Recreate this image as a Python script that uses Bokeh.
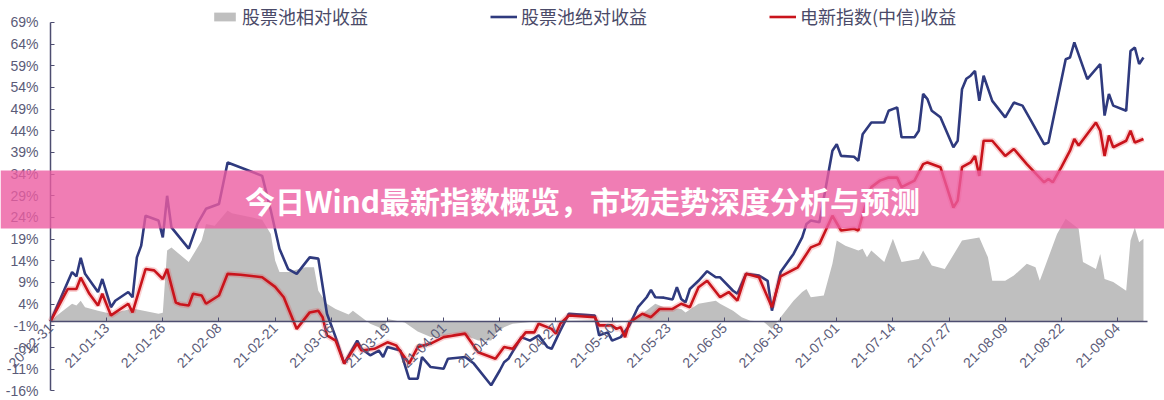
import pandas as pd
from math import pi
from bokeh.plotting import figure
from bokeh.models import (Range1d, FixedTicker, PrintfTickFormatter, DatetimeTickFormatter,
                          Legend, LegendItem, BoxAnnotation, Label)
from bokeh.embed import file_html
from bokeh.resources import INLINE

# ---------------- data ----------------
BASE_DATE = "2020-12-31"
tick_dates = ["2020-12-31", "2021-01-13", "2021-01-26", "2021-02-08", "2021-02-21",
              "2021-03-06", "2021-03-19", "2021-04-01", "2021-04-14", "2021-04-27",
              "2021-05-10", "2021-05-23", "2021-06-05", "2021-06-18", "2021-07-01",
              "2021-07-14", "2021-07-27", "2021-08-09", "2021-08-22", "2021-09-04"]
y_ticks = [-16, -11, -6, -1, 4, 9, 14, 19, 24, 29, 34, 39, 44, 49, 54, 59, 64, 69]

# days after BASE_DATE, returns in %
rel_days = [0, 2, 5, 6, 7, 8, 11, 14, 19, 25, 26, 27, 28, 32, 35, 36, 38, 41, 42, 49, 51, 52, 53,
            55, 59, 61, 62, 64, 66, 69, 70, 72, 74, 76, 77, 78, 82, 85, 88, 90, 93, 96, 99, 102,
            103, 105, 107, 110, 112, 126, 130, 134, 137, 140, 142, 146, 147, 150, 154, 155, 158,
            160, 162, 165, 167, 169, 172, 174, 175, 176, 179, 181, 182, 184, 187, 188, 189, 190,
            193, 195, 197, 201, 202, 204, 207, 208, 211, 215, 217, 218, 221, 223, 226, 228, 229,
            233, 235, 238, 239, 242, 243, 244, 246, 249, 250, 251, 252, 253]
rel_vals = [0.0, 1.8, 4.1, 3.7, 4.8, 3.3, 2.5, 1.8, 3.0, 1.8, 2.0, 16.4, 17.1, 13.7, 18.7, 22.5,
            22.1, 25.6, 25.0, 23.5, 20.2, 14.1, 11.4, 11.4, 12.5, 12.5, 7.1, 4.1, 2.9, 1.6, 2.5,
            1.0, -0.5, -1.3, -2.3, 0.6, -0.2, -2.3, -3.6, -3.6, -2.8, -3.2, -4.4, -4.4, -2.8,
            -1.3, -0.5, -0.2, 0.0, 0.3, -0.3, 0.0, 1.8, 4.1, 3.3, 2.9, 2.1, 4.1, 4.8, 4.1, 2.5,
            1.0, 0.2, 0.0, -1.7, 1.0, 4.8, 6.8, 7.5, 5.6, 6.0, 13.3, 18.7, 17.5, 16.4, 16.8, 14.8,
            16.4, 13.7, 19.1, 13.7, 14.4, 16.4, 12.9, 12.1, 13.7, 18.7, 19.4, 14.8, 9.4, 9.4,
            10.6, 13.3, 12.5, 9.4, 20.2, 23.7, 21.4, 13.7, 12.1, 15.6, 9.8, 9.1, 7.1, 18.7, 21.7,
            18.3, 19.1]

abs_days = [0, 5, 6, 7, 8, 11, 12, 14, 15, 18, 19, 20, 21, 22, 25, 26, 27, 28, 32, 34, 36, 39,
            41, 49, 51, 53, 55, 57, 60, 62, 64, 66, 68, 71, 72, 74, 76, 77, 78, 81, 83, 85, 86,
            88, 91, 92, 96, 98, 102, 104, 105, 106, 109, 111, 113, 115, 116, 118, 120, 126, 127,
            129, 130, 132, 134, 136, 138, 139, 140, 142, 144, 145, 146, 147, 148, 150, 152, 154,
            155, 158, 159, 161, 164, 166, 167, 169, 172, 174, 175, 176, 178, 181, 182, 183, 186,
            187, 188, 190, 193, 194, 196, 197, 200, 201, 202, 203, 204, 206, 209, 210, 211, 212,
            213, 214, 215, 216, 218, 221, 223, 225, 227, 230, 231, 233, 235, 236, 237, 240, 243,
            244, 245, 246, 249, 250, 251, 252, 253]
abs_vals = [0.0, 11.4, 10.4, 14.7, 11.0, 6.8, 9.8, 3.3, 4.8, 6.8, 5.6, 14.8, 17.5, 24.4, 23.3,
            19.4, 29.0, 21.7, 16.8, 22.5, 26.0, 27.1, 36.7, 33.6, 25.6, 16.8, 12.1, 11.0, 14.8,
            14.5, 1.8, -3.6, -9.7, -4.4, -6.3, -7.8, -6.7, -8.2, -5.9, -6.7, -13.2, -13.2, -8.2,
            -10.5, -10.9, -8.6, -8.2, -9.7, -14.7, -11.3, -9.4, -8.6, -3.6, -4.4, -3.2, -5.9,
            -6.3, -2.1, 1.8, 1.4, -3.2, -2.5, -4.4, -3.6, -0.9, 3.3, 5.6, 7.3, 5.6, 5.5, 5.1, 7.9,
            5.2, 4.4, 7.5, 9.4, 11.6, 10.2, 10.2, 7.1, 6.4, 11.0, 10.6, 9.4, 2.5, 11.4, 15.6,
            19.4, 22.5, 23.3, 22.9, 39.4, 40.9, 38.2, 38.0, 37.1, 43.2, 45.9, 45.9, 48.6, 49.4,
            42.5, 42.5, 44.0, 52.5, 51.3, 48.6, 47.1, 40.2, 41.7, 53.6, 56.0, 56.7, 57.8, 50.9,
            56.7, 50.9, 47.1, 50.5, 49.8, 46.3, 40.9, 41.3, 50.9, 60.5, 60.9, 64.4, 55.9, 59.4,
            47.5, 52.5, 49.8, 48.6, 62.4, 63.2, 59.4, 60.9]

idx_days = [0, 4, 6, 7, 9, 11, 12, 14, 18, 19, 22, 24, 26, 27, 29, 30, 32, 33, 35, 36, 39, 41,
            44, 49, 52, 54, 57, 60, 62, 63, 64, 66, 68, 71, 72, 75, 78, 80, 83, 85, 88, 91, 96,
            99, 103, 105, 107, 110, 112, 113, 116, 117, 118, 120, 126, 127, 130, 131, 132, 133,
            134, 137, 139, 141, 144, 146, 148, 150, 152, 155, 157, 159, 161, 164, 167, 169, 173,
            176, 178, 181, 183, 186, 187, 189, 190, 192, 194, 196, 197, 200, 202, 203, 206, 209,
            210, 211, 213, 214, 215, 216, 218, 221, 223, 226, 230, 231, 232, 234, 236, 237, 238,
            242, 243, 244, 245, 246, 249, 250, 251, 252, 253]
idx_vals = [0.0, 7.5, 7.5, 10.1, 6.4, 3.7, 6.4, 1.4, 4.1, 2.1, 12.1, 11.8, 9.8, 12.1, 4.4, 4.0,
            3.7, 6.4, 6.0, 4.1, 6.0, 11.0, 10.8, 10.2, 8.0, 5.6, -1.7, 2.1, 2.5, 1.0, -3.2, -4.4,
            -9.7, -5.1, -6.7, -6.3, -4.8, -5.5, -9.7, -5.9, -5.1, -3.6, -2.8, -7.1, -8.6, -5.9,
            -6.3, -2.5, -2.5, -0.5, -1.7, -2.8, -0.5, 1.4, 1.0, -0.9, -0.9, -1.7, -1.3, -3.6,
            -0.2, 1.8, 1.0, 2.9, 2.9, 4.1, 3.3, 7.9, 9.4, 5.6, 6.8, 4.8, 11.0, 10.2, 3.3, 10.4,
            12.5, 17.1, 17.9, 24.4, 21.0, 21.4, 21.0, 28.0, 31.0, 32.5, 33.2, 33.2, 31.0, 32.5,
            36.3, 36.7, 35.6, 26.3, 27.9, 35.6, 36.7, 38.2, 33.6, 41.7, 41.7, 38.2, 39.8, 36.3,
            32.1, 32.9, 32.1, 35.6, 39.4, 42.1, 40.6, 45.9, 44.0, 38.2, 42.9, 40.2, 41.7, 44.0,
            41.3, 41.7, 42.1]

legend_labels = ["股票池相对收益", "股票池绝对收益", "电新指数(中信)收益"]
banner_text = "今日Wind最新指数概览，市场走势深度分析与预测"

# ---------------- helpers ----------------
base = pd.Timestamp(BASE_DATE)
def to_dt(days):
    return [base + pd.Timedelta(days=float(d)) for d in days]
def ms(ts):
    return ts.timestamp() * 1000.0

rel_dt, abs_dt, idx_dt = to_dt(rel_days), to_dt(abs_days), to_dt(idx_days)
tick_ms = [ms(pd.Timestamp(t)) for t in tick_dates]

x_start = base - pd.Timedelta(days=11.57)
x_end = base + pd.Timedelta(days=257.87)

p = figure(width=1164, height=400, x_axis_type="datetime",
           x_range=Range1d(x_start, x_end), y_range=Range1d(-18.22, 74.05),
           output_backend="svg", toolbar_location=None, min_border=0)
p.xgrid.visible = False
p.ygrid.visible = False
p.outline_line_color = None
p.background_fill_color = "white"

AX = "#4d4d70"
LBL = "#5b5b78"

xa = p.xaxis[0]
xa.fixed_location = 0
xa.bounds = (ms(base), ms(base + pd.Timedelta(days=253.9)))
xa.ticker = FixedTicker(ticks=tick_ms)
fmt = "%y-%m-%d"
xa.formatter = DatetimeTickFormatter(days=fmt, months=fmt, years=fmt, hours=fmt,
                                     minutes=fmt, seconds=fmt, milliseconds=fmt, microseconds=fmt)
xa.major_label_orientation = pi / 4
xa.major_tick_in = 4
xa.major_tick_out = 0
xa.minor_tick_line_color = None
xa.axis_line_color = AX
xa.axis_line_width = 1.5
xa.major_tick_line_color = AX
xa.major_label_text_font = "Liberation Sans"
xa.major_label_text_font_size = "14px"
xa.major_label_text_color = LBL
xa.major_label_standoff = 4

ya = p.yaxis[0]
ya.fixed_location = ms(base)
ya.bounds = (-16, 69)
ya.ticker = FixedTicker(ticks=y_ticks)
ya.formatter = PrintfTickFormatter(format="%d%%")
ya.major_tick_in = 4
ya.major_tick_out = 0
ya.minor_tick_line_color = None
ya.axis_line_color = AX
ya.axis_line_width = 1.5
ya.major_tick_line_color = AX
ya.major_label_text_font = "Liberation Sans"
ya.major_label_text_font_size = "14px"
ya.major_label_text_color = LBL
ya.major_label_standoff = 12

area = p.varea(x=rel_dt, y1=0, y2=rel_vals, fill_color="#bfbfbf")
navy = p.line(abs_dt, abs_vals, line_color="#2f3a7e", line_width=2.6)
p.line(idx_dt, idx_vals, line_color="#e8383d", line_width=6, line_alpha=0.22)
red = p.line(idx_dt, idx_vals, line_color="#c9141c", line_width=2.6)

legend = Legend(items=[LegendItem(label=legend_labels[0], renderers=[area]),
                       LegendItem(label=legend_labels[1], renderers=[navy]),
                       LegendItem(label=legend_labels[2], renderers=[red])],
                orientation="horizontal", location=(211, 371), spacing=122,
                glyph_width=27, glyph_height=11, label_standoff=4, padding=0, margin=0,
                background_fill_alpha=0, border_line_alpha=0,
                label_text_font="Noto Sans CJK SC", label_text_font_size="18px",
                label_text_color="#4a4a68")
p.add_layout(legend)

banner = BoxAnnotation(top=34.83, bottom=21.45, fill_color="#ec5ca1", fill_alpha=0.8,
                       line_color=None, level="overlay")
p.add_layout(banner)
p.add_layout(Label(x=582, y=28.14, x_units="screen", y_units="data", text=banner_text,
                   text_align="center", text_baseline="middle", text_color="white",
                   text_font="Noto Sans CJK SC", text_font_size="30px",
                   text_font_style="bold", level="overlay"))

open("out.html", "w").write(file_html(p, INLINE))
